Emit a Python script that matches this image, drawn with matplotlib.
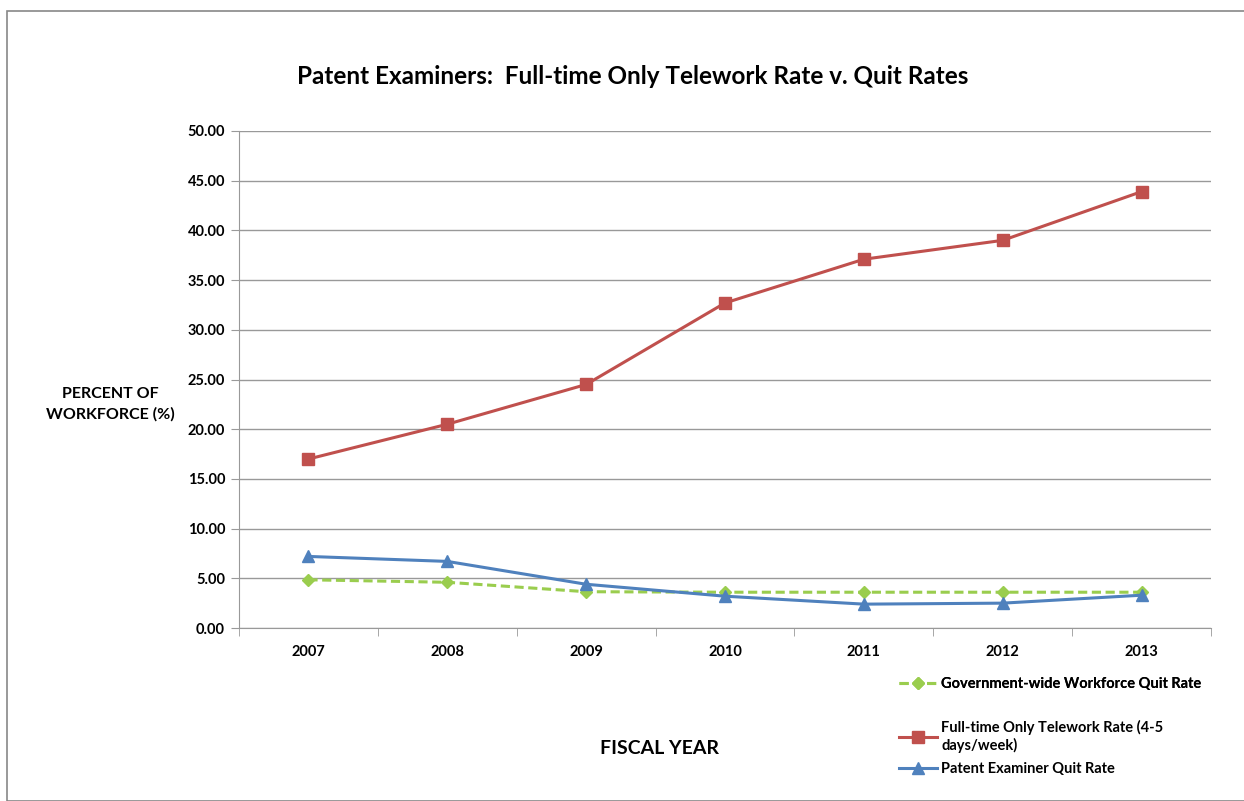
import matplotlib.pyplot as plt
from matplotlib.patches import Rectangle

plt.rcParams['font.family'] = ['Lato', 'DejaVu Sans']
plt.rcParams['font.weight'] = 'bold'

years = ['2007', '2008', '2009', '2010', '2011', '2012', '2013']
gov_quit = [4.85, 4.6, 3.65, 3.6, 3.6, 3.6, 3.6]
telework = [17.0, 20.5, 24.5, 32.7, 37.1, 39.0, 43.9]
examiner_quit = [7.2, 6.7, 4.4, 3.2, 2.4, 2.5, 3.3]

x = list(range(len(years)))

fig = plt.figure(figsize=(12.44, 8.01), dpi=100)
# chart frame
fig.patches.append(Rectangle((7/1244, 0), 1.0, 1 - 11/801, transform=fig.transFigure,
                             fill=False, edgecolor='#888888', lw=1.2, zorder=0))

ax = fig.add_axes([239/1244, 1 - 628/801, (1211 - 239)/1244, (628 - 131)/801])

l1, = ax.plot(x, gov_quit, color='#9ACD4E', ls=(0, (3, 1.5)), lw=2.2, marker='D',
              ms=6, markeredgecolor='#9ACD4E')
l2, = ax.plot(x, telework, color='#C0504D', lw=2.2, marker='s', ms=8)
l3, = ax.plot(x, examiner_quit, color='#4F81BD', lw=2.2, marker='^', ms=9)

ax.set_xlim(-0.5, 6.5)
ax.set_ylim(0, 50)
ax.set_yticks(range(0, 51, 5))
ax.set_yticklabels([f'{v:.2f}' for v in range(0, 51, 5)], fontsize=10.5)
ax.set_xticks(x)
ax.set_xticklabels(years, fontsize=10.5)
ax.set_xticks([i - 0.5 for i in range(len(years) + 1)], minor=True)
ax.tick_params(axis='x', which='major', length=0, pad=12)
ax.tick_params(axis='x', which='minor', length=6, color='#999999')
ax.tick_params(axis='y', length=6, color='#999999', pad=4)
ax.grid(axis='y', color='#999999', lw=1)
ax.set_axisbelow(True)
for s in ['top', 'right']:
    ax.spines[s].set_visible(False)
for s in ['left', 'bottom']:
    ax.spines[s].set_color('#999999')

fig.text(633/1244, 1 - 77/801, 'Patent Examiners:  Full-time Only Telework Rate v. Quit Rates',
         ha='center', va='center', fontsize=17.5, fontweight='bold')
fig.text(110/1244, 1 - 404/801, 'PERCENT OF\nWORKFORCE (%)', ha='center', va='center',
         fontsize=11.5, fontweight='bold', linespacing=1.5)
fig.text(659/1244, 1 - 748/801, 'FISCAL YEAR', ha='center', va='center',
         fontsize=14, fontweight='bold')

leg_kw = dict(loc='upper left', frameon=False, fontsize=10.5, handlelength=2.6,
              handletextpad=0.3, borderaxespad=0, borderpad=0)
leg1 = fig.legend([l1], ['Government-wide Workforce Quit Rate'],
                  bbox_to_anchor=(899/1244, 1 - 677/801), **leg_kw)
fig.legend([l2, l3],
           ['Full-time Only Telework Rate (4-5\ndays/week)',
            'Patent Examiner Quit Rate'],
           bbox_to_anchor=(899/1244, 1 - 720/801), labelspacing=0.65, **leg_kw)
fig.add_artist(leg1)

fig.savefig('out.png', dpi=100)
